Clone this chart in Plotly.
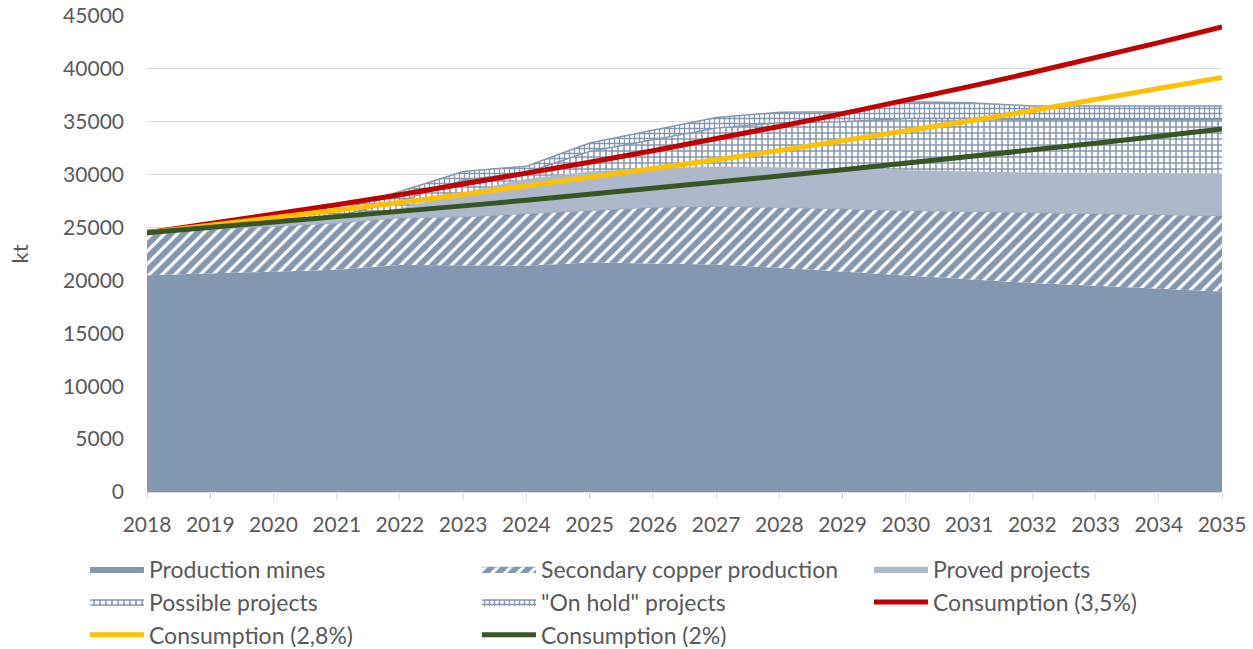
import plotly.graph_objects as go

years = list(range(2018, 2036))

production_mines = [20500, 20650, 20800, 21000, 21450, 21450, 21400, 21700, 21600,
                    21500, 21200, 20850, 20450, 20100, 19750, 19500, 19200, 18950]
secondary_copper = [4050, 4150, 4300, 4400, 4450, 4550, 4900, 4950, 5300,
                    5500, 5700, 5900, 6150, 6400, 6650, 6800, 7000, 7150]
proved_projects = [100, 200, 300, 500, 900, 2300, 3300, 3650, 3700,
                   3750, 3800, 3800, 3800, 3800, 3800, 3900, 3950, 4000]
possible_projects = [50, 50, 100, 200, 700, 1200, 600, 1900, 2700,
                     3650, 4200, 4450, 4900, 5000, 5000, 5000, 5050, 5100]
on_hold_projects = [50, 50, 200, 500, 900, 800, 600, 800, 900,
                    1000, 1000, 950, 1600, 1500, 1300, 1300, 1300, 1300]

consumption_35 = [24500, 25360, 26250, 27160, 28110, 29100, 30120, 31170, 32260,
                  33390, 34560, 35770, 37020, 38320, 39660, 41050, 42480, 43970]
consumption_28 = [24500, 25190, 25890, 26620, 27360, 28130, 28920, 29720, 30560,
                  31410, 32290, 33200, 34130, 35080, 36060, 37070, 38110, 39180]
consumption_20 = [24500, 24990, 25490, 26000, 26520, 27050, 27590, 28140, 28710,
                  29280, 29870, 30460, 31070, 31690, 32330, 32970, 33630, 34310]

BLUEGRAY = "#8497B0"
LIGHT = "#ADB9CA"
TEXT = "#595959"
FONT = "Lato"

fig = go.Figure()

fig.add_trace(go.Scatter(
    x=years, y=production_mines, name="Production mines", stackgroup="s",
    mode="lines", line=dict(width=0, color=BLUEGRAY), fillcolor=BLUEGRAY))
fig.add_trace(go.Scatter(
    x=years, y=secondary_copper, name="Secondary copper production", stackgroup="s",
    mode="lines", line=dict(width=0.5, color=BLUEGRAY), fillcolor="white",
    fillpattern=dict(shape="/", fgcolor=BLUEGRAY, bgcolor="white", fgopacity=1,
                     size=9, solidity=0.65)))
fig.add_trace(go.Scatter(
    x=years, y=proved_projects, name="Proved projects", stackgroup="s",
    mode="lines", line=dict(width=0.5, color=LIGHT), fillcolor=LIGHT))
fig.add_trace(go.Scatter(
    x=years, y=possible_projects, name="Possible projects", stackgroup="s",
    mode="lines", line=dict(width=1.5, color=BLUEGRAY), fillcolor="white",
    fillpattern=dict(shape="+", fgcolor=BLUEGRAY, bgcolor="white", fgopacity=1,
                     size=6, solidity=0.45)))
fig.add_trace(go.Scatter(
    x=years, y=on_hold_projects, name="\"On hold\" projects", stackgroup="s",
    mode="lines", line=dict(width=1.5, color=BLUEGRAY), fillcolor="white",
    fillpattern=dict(shape="+", fgcolor=BLUEGRAY, bgcolor="white", fgopacity=1,
                     size=5, solidity=0.45)))

fig.add_trace(go.Scatter(
    x=years, y=consumption_35, name="Consumption (3,5%)", mode="lines",
    line=dict(width=5, color="#C00000")))
fig.add_trace(go.Scatter(
    x=years, y=consumption_28, name="Consumption (2,8%)", mode="lines",
    line=dict(width=5, color="#FFC000")))
fig.add_trace(go.Scatter(
    x=years, y=consumption_20, name="Consumption (2%)", mode="lines",
    line=dict(width=5, color="#375623")))

fig.update_layout(
    width=1253, height=649,
    margin=dict(l=147, r=31, t=16, b=157, autoexpand=False),
    plot_bgcolor="white", paper_bgcolor="white",
    font=dict(family=FONT, size=21, color=TEXT),
    showlegend=True,
    legend=dict(
        orientation="h", x=-0.0577, xanchor="left", y=-0.1168, yanchor="top",
        entrywidth=323, entrywidthmode="pixels", itemwidth=54,
        font=dict(family=FONT, size=23, color=TEXT),
        traceorder="normal", bgcolor="rgba(0,0,0,0)"),
    xaxis=dict(
        range=[2018, 2035], tickmode="linear", tick0=2018, dtick=1,
        showgrid=False, zeroline=False, showline=True, linecolor="#D9D9D9", linewidth=1,
        ticks="outside", ticklen=6, tickcolor="#D9D9D9", ticklabelstandoff=8,
        ticklabeloverflow="allow",
        tickfont=dict(family=FONT, size=21, color=TEXT)),
    yaxis=dict(
        range=[0, 45000], tickmode="linear", tick0=0, dtick=5000,
        showgrid=True, gridcolor="#D9D9D9", gridwidth=1, zeroline=False,
        showline=False, ticks="", tickformat="d", ticklabelstandoff=22,
        ticklabeloverflow="allow",
        tickfont=dict(family=FONT, size=21, color=TEXT),
        title=dict(text="kt", font=dict(family=FONT, size=22, color=TEXT), standoff=28)),
)

fig.write_html("out.html", config={"displayModeBar": False},
               post_script="document.body.style.margin='0';")
